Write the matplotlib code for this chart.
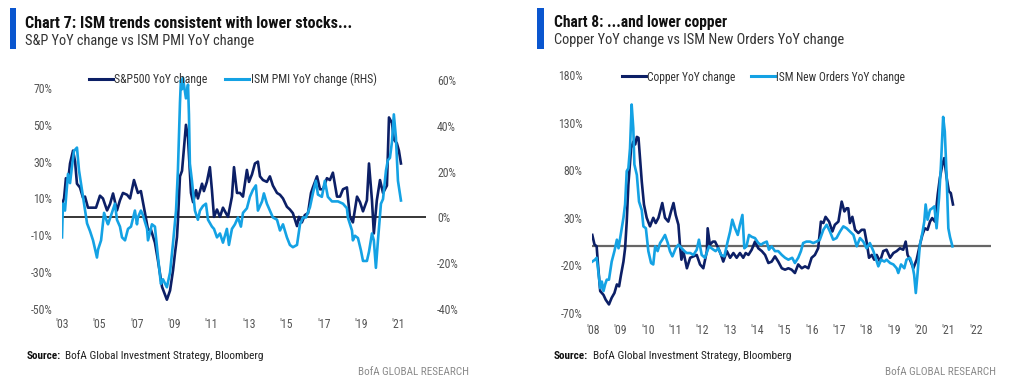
import matplotlib
matplotlib.use('Agg')
import matplotlib.pyplot as plt
from matplotlib import font_manager
from matplotlib.lines import Line2D

avail = {f.name for f in font_manager.fontManager.ttflist}
FONT = next((f for f in ['Liberation Sans Narrow', 'Roboto Condensed', 'Liberation Sans'] if f in avail), 'DejaVu Sans')
plt.rcParams['font.family'] = [FONT, 'DejaVu Sans']

# ---------------- data ----------------
# Chart 7: S&P500 YoY % (left axis), ISM PMI YoY % (right axis)
sp500 = [(2003.00, 7), (2003.11, 10), (2003.21, 21), (2003.32, 19), (2003.43, 29), (2003.59, 36), (2003.70, 30),
         (2003.80, 18), (2003.96, 16), (2004.12, 10.5), (2004.23, 11), (2004.39, 5), (2004.60, 5), (2004.82, 5),
         (2005.03, 11.5), (2005.19, 10), (2005.41, 3.5), (2005.57, 7), (2005.73, 12.7), (2005.94, 3.5), (2006.10, 9),
         (2006.26, 13), (2006.48, 12), (2006.64, 10), (2006.85, 20), (2007.06, 13), (2007.22, 14), (2007.44, 2),
         (2007.60, -7), (2007.76, -7), (2007.97, -14), (2008.13, -23.5), (2008.35, -38), (2008.61, -45), (2008.78, -40),
         (2008.94, -29), (2009.04, -20), (2009.15, -11), (2009.20, -2), (2009.31, 22), (2009.42, 25), (2009.63, 50),
         (2009.74, 43), (2009.90, 13), (2010.01, 8), (2010.17, 14.5), (2010.27, 10), (2010.49, 18), (2010.59, 14),
         (2010.75, 19), (2010.91, 27), (2011.02, 14.5), (2011.13, 0), (2011.29, 4), (2011.45, 0), (2011.61, 5),
         (2011.77, 2), (2011.88, 0), (2012.09, 11), (2012.20, 27), (2012.36, 13), (2012.52, 13), (2012.68, 11),
         (2012.89, 25.5), (2013.00, 19), (2013.16, 23), (2013.32, 29), (2013.48, 30), (2013.59, 22), (2013.75, 20),
         (2013.96, 19), (2014.12, 22), (2014.28, 17), (2014.50, 13), (2014.66, 12), (2014.82, 10), (2015.03, 5.5),
         (2015.19, 4), (2015.35, 2), (2015.57, -5), (2015.67, 0), (2015.83, -3), (2015.99, 1), (2016.16, 2),
         (2016.26, 9), (2016.32, 13), (2016.42, 16), (2016.64, 22), (2016.80, 15), (2016.96, 15), (2017.17, 21),
         (2017.33, 20), (2017.49, 24), (2017.71, 11), (2017.87, 11), (2018.03, 15), (2018.24, 16), (2018.40, 0),
         (2018.56, -3), (2018.78, 11), (2018.94, 8), (2019.10, 3), (2019.31, 9), (2019.42, 29), (2019.58, 9),
         (2019.68, -9), (2019.84, 9), (2020.01, 20), (2020.17, 13), (2020.38, 17), (2020.49, 54), (2020.65, 51),
         (2020.75, 42), (2020.91, 40), (2021.02, 36), (2021.13, 29)]

ism_pmi = [(2003.00, -8.7), (2003.05, 6), (2003.16, 3), (2003.21, 8), (2003.32, 19), (2003.43, 15), (2003.53, 22),
           (2003.64, 29), (2003.80, 30.5), (2003.91, 20.5), (2004.07, 12), (2004.18, 6), (2004.34, -2.6), (2004.50, -6),
           (2004.66, -10), (2004.87, -17.5), (2004.93, -14), (2005.09, -10), (2005.25, 2), (2005.41, -2), (2005.46, -3),
           (2005.67, 2), (2005.83, 6), (2005.94, -1), (2006.10, -4), (2006.21, -8.7), (2006.37, -10), (2006.53, -5),
           (2006.69, -4), (2006.90, 3), (2007.01, -3), (2007.06, 0), (2007.22, 3), (2007.33, 1), (2007.55, -5),
           (2007.60, -10), (2007.81, -3), (2007.97, -4), (2008.13, -17), (2008.29, -29), (2008.40, -27),
           (2008.61, -30.5), (2008.78, -24), (2008.94, -11), (2009.10, 3), (2009.20, 20.5), (2009.31, 50),
           (2009.36, 60), (2009.42, 56), (2009.47, 61), (2009.63, 52), (2009.74, 58), (2009.79, 45), (2009.84, 23.5),
           (2009.95, 16), (2010.11, 3), (2010.27, -1), (2010.38, 3), (2010.54, 5), (2010.70, 6), (2010.81, -1),
           (2011.02, -4), (2011.13, -5), (2011.29, -8.7), (2011.45, -7), (2011.61, -11), (2011.82, -5), (2011.93, -12),
           (2012.09, -5), (2012.25, -3), (2012.41, 0), (2012.57, -4), (2012.68, 2), (2012.89, 4), (2013.05, 9),
           (2013.21, 12), (2013.37, 14), (2013.48, 3), (2013.70, 7), (2013.80, 10.5), (2013.96, 6), (2014.12, 3),
           (2014.28, 0), (2014.50, -1), (2014.66, -5.7), (2014.82, -3), (2015.03, -8.7), (2015.19, -12),
           (2015.35, -13), (2015.57, -12), (2015.73, -3), (2015.89, 0), (2016.05, 0), (2016.26, 4.4), (2016.42, 10.5),
           (2016.58, 16), (2016.69, 10), (2016.90, 9), (2017.06, 16), (2017.22, 9), (2017.44, 7), (2017.60, 7),
           (2017.76, 7), (2018.03, 6), (2018.24, 4), (2018.29, 0), (2018.51, -5.7), (2018.56, -10), (2018.67, -8),
           (2018.83, -9), (2018.99, -14.4), (2019.10, -19), (2019.31, -19), (2019.42, -15), (2019.58, -7),
           (2019.68, -10), (2019.79, -22), (2019.90, -10), (2020.06, 6), (2020.17, 8), (2020.33, 20.5), (2020.43, 25),
           (2020.54, 26), (2020.65, 33), (2020.75, 45), (2020.86, 35), (2020.97, 16), (2021.13, 7.4)]

# Chart 8: Copper YoY %, ISM New Orders YoY %
copper = [(2007.97, 12), (2008.05, 2), (2008.13, 0), (2008.19, -23), (2008.26, -47), (2008.38, -51), (2008.46, -56),
          (2008.58, -61), (2008.68, -54), (2008.78, -49), (2008.87, -40), (2008.95, -42), (2009.02, -30),
          (2009.11, -16), (2009.17, -2), (2009.23, 26), (2009.29, 65), (2009.39, 103), (2009.47, 110), (2009.54, 107),
          (2009.60, 115), (2009.66, 114), (2009.72, 91), (2009.78, 68), (2009.86, 44), (2009.96, 30), (2010.08, 21),
          (2010.20, 30), (2010.29, 24.5), (2010.39, 30), (2010.53, 45.5), (2010.63, 30), (2010.75, 26),
          (2010.85, 36.7), (2010.94, 45.5), (2011.02, 33), (2011.12, 22.7), (2011.18, 0), (2011.23, -14),
          (2011.30, -5), (2011.43, -23), (2011.55, -12), (2011.67, -10.5), (2011.79, -9), (2011.91, -19),
          (2012.03, -23), (2012.16, -5), (2012.19, 19), (2012.27, 1.7), (2012.38, 5), (2012.46, 5), (2012.58, -2),
          (2012.68, -9), (2012.76, -16), (2012.89, -5), (2013.01, -12), (2013.13, -7), (2013.25, -12), (2013.37, -7),
          (2013.49, -12), (2013.58, -7), (2013.68, -9), (2013.80, -3.5), (2013.92, 5), (2014.04, -2), (2014.17, -5),
          (2014.29, -9), (2014.41, -17.5), (2014.53, -16), (2014.65, -10.5), (2014.77, -16), (2014.90, -23),
          (2015.02, -24.5), (2015.14, -23), (2015.26, -24.5), (2015.38, -28), (2015.50, -19), (2015.63, -23),
          (2015.75, -21), (2015.87, -23), (2015.99, -12), (2016.11, -9), (2016.23, -2), (2016.33, 26),
          (2016.42, 24.5), (2016.50, 31), (2016.63, 26), (2016.75, 15.6), (2016.84, 22.7), (2016.97, 26),
          (2017.09, 47), (2017.19, 36.7), (2017.27, 40), (2017.33, 40), (2017.39, 24.5), (2017.48, 31),
          (2017.58, 17.4), (2017.70, 14), (2017.82, 17.4), (2017.92, 17.4), (2018.00, 5), (2018.09, -12),
          (2018.19, -9), (2018.28, -14), (2018.37, -9), (2018.49, -16), (2018.61, -5), (2018.73, -3.5),
          (2018.86, -12), (2018.98, -7), (2019.10, -5), (2019.22, -2), (2019.34, -3.5), (2019.43, 5), (2019.50, -9),
          (2019.59, -14), (2019.71, -23), (2019.83, -14), (2019.95, 1.7), (2020.04, 12), (2020.13, 19),
          (2020.23, 17.4), (2020.32, 26), (2020.40, 29.7), (2020.50, 26), (2020.60, 54), (2020.68, 71.7),
          (2020.77, 85.7), (2020.84, 92.7), (2020.93, 71.7), (2021.01, 57.7), (2021.08, 56), (2021.16, 44)]

ism_new_orders = [(2007.97, -16), (2008.07, -14), (2008.13, -12), (2008.19, -26), (2008.26, -44), (2008.32, -37),
                  (2008.38, -47), (2008.44, -40), (2008.50, -35), (2008.58, -35), (2008.68, -16), (2008.78, -5),
                  (2008.87, 7), (2008.93, -2), (2009.01, 12), (2009.11, 30), (2009.17, 44), (2009.23, 79),
                  (2009.29, 82), (2009.35, 103), (2009.41, 149), (2009.47, 124), (2009.51, 86), (2009.60, 75),
                  (2009.68, 47), (2009.78, 38), (2009.84, 21), (2009.93, 19), (2010.02, -5), (2010.12, -17.5),
                  (2010.20, -19), (2010.27, 0), (2010.36, -5), (2010.45, 3.5), (2010.53, 7), (2010.63, 12),
                  (2010.73, 3.5), (2010.81, -5), (2010.90, -10.5), (2011.02, -2), (2011.12, 1.7), (2011.24, -2),
                  (2011.34, -5), (2011.42, -7), (2011.55, -7), (2011.67, -9), (2011.79, -3.5), (2011.87, 7),
                  (2011.97, -9), (2012.09, -12), (2012.24, 0), (2012.40, -3.5), (2012.48, -5), (2012.58, -2),
                  (2012.68, -9), (2012.80, -10.5), (2012.92, 5), (2013.01, 15.6), (2013.09, 28), (2013.19, 19),
                  (2013.29, 12), (2013.37, 22.7), (2013.46, 33), (2013.53, -2), (2013.61, 0), (2013.70, 12),
                  (2013.80, 10), (2013.92, 8.7), (2014.04, 3.5), (2014.14, 1.7), (2014.23, 3.5), (2014.35, 5),
                  (2014.43, -3.5), (2014.53, 0), (2014.65, -5), (2014.77, -5), (2014.90, -9), (2015.02, -12),
                  (2015.14, -14), (2015.28, -12), (2015.38, -17.5), (2015.50, -12), (2015.60, -5), (2015.68, 3.5),
                  (2015.80, 5), (2015.93, 5), (2016.05, 3.5), (2016.17, 5), (2016.29, 7), (2016.42, 17.4),
                  (2016.54, 22.7), (2016.66, 15.6), (2016.78, 7), (2016.90, 8.7), (2017.03, 15.6), (2017.15, 21),
                  (2017.27, 19), (2017.39, 15.6), (2017.52, 12), (2017.64, 0), (2017.76, 8.7), (2017.88, 5),
                  (2018.00, -2), (2018.12, 3.5), (2018.25, -5), (2018.33, -12), (2018.43, -21), (2018.53, -14),
                  (2018.65, -16), (2018.73, -14), (2018.86, -17.5), (2018.98, -19), (2019.10, -23), (2019.16, -28),
                  (2019.26, -19), (2019.38, -23), (2019.46, -14), (2019.59, -12), (2019.67, -19), (2019.74, -30),
                  (2019.80, -49), (2019.86, -30), (2019.95, 1.7), (2020.04, 14), (2020.11, 26), (2020.16, 44),
                  (2020.23, 28), (2020.32, 38.4), (2020.40, 40), (2020.48, 42), (2020.56, 19), (2020.65, 50.7),
                  (2020.72, 85.7), (2020.80, 136), (2020.86, 120.7), (2020.93, 71.7), (2020.99, 19), (2021.05, 10),
                  (2021.14, 0)]

c7_xticks = list(range(2003, 2022, 2))
c7_xlabels = ["'%02d" % (y % 100) for y in c7_xticks]
c7_left_ticks = [-50, -30, -10, 10, 30, 50, 70]
c7_right_ticks = [-40, -20, 0, 20, 40, 60]
c8_xticks = list(range(2008, 2023))
c8_xlabels = ["'%02d" % (y % 100) for y in c8_xticks]
c8_yticks = [-70, -20, 30, 80, 130, 180]

# ---------------- style ----------------
NAVY = '#0c1f66'
SKY = '#14a2e4'
BAR = '#0a56cf'
TICK = '#555555'
W, H = 1009, 387
fig = plt.figure(figsize=(W / 100, H / 100), dpi=100)


def px_axes(l, t, r, b):
    return fig.add_axes([l / W, 1 - b / H, (r - l) / W, (b - t) / H])


def fx(x):
    return x / W


def fy(y):
    return 1 - y / H


def unzip(pairs):
    return [p[0] for p in pairs], [p[1] for p in pairs]


def clean(ax):
    for s in ax.spines.values():
        s.set_visible(False)
    ax.tick_params(length=0, labelsize=8.5, labelcolor=TICK)


def pct(vals):
    return ['%d%%' % v for v in vals]


# ---------------- Chart 7 ----------------
ax1 = px_axes(62, 75, 426, 315)
ax1.set_xlim(2003, 2022.47)
ax1.set_ylim(-53.3, 77.06)
ax1.axhline(0, color='black', lw=1.1, zorder=1)
x, y = unzip(sp500)
ax1.plot(x, y, color=NAVY, lw=1.9, zorder=3, solid_joinstyle='round')
ax1.set_xticks(c7_xticks, c7_xlabels)
ax1.set_yticks(c7_left_ticks, pct(c7_left_ticks))
clean(ax1)
ax1.tick_params(axis='y', pad=7)
ax1.tick_params(axis='x', pad=2.5)

ax1r = ax1.twinx()
ax1r.set_ylim(-42.6, 62.2)
x, y = unzip(ism_pmi)
ax1r.plot(x, y, color=SKY, lw=1.9, zorder=3, solid_joinstyle='round')
ax1r.set_yticks(c7_right_ticks, pct(c7_right_ticks))
clean(ax1r)
ax1r.tick_params(axis='y', pad=8)

fig.legend([Line2D([], [], color=NAVY, lw=2.2), Line2D([], [], color=SKY, lw=2.2)],
           ['S&P500 YoY change', 'ISM PMI YoY change (RHS)'],
           loc='center left', bbox_to_anchor=(fx(89), fy(79)), ncol=2, frameon=False,
           fontsize=8.5, handlelength=2.0, handletextpad=0.15, columnspacing=1.5, borderpad=0,
           borderaxespad=0, labelcolor='#333333')

fig.patches.append(plt.Rectangle((fx(10), fy(49)), fx(6), 41 / H, transform=fig.transFigure,
                                 color=BAR, lw=0))
fig.text(fx(25), fy(28), 'Chart 7: ISM trends consistent with lower stocks...', fontsize=11.6,
         fontweight='bold', color='#111111', va='baseline')
fig.text(fx(25), fy(45), 'S&P YoY change vs ISM PMI YoY change', fontsize=10.4, color='#333333', va='baseline')
fig.text(fx(27), fy(359), 'Source:', fontsize=8, fontweight='bold', color='#111111', va='baseline')
fig.text(fx(65), fy(359), 'BofA Global Investment Strategy, Bloomberg', fontsize=8.2, color='#222222',
         va='baseline')
fig.text(fx(469), fy(375), 'BofA GLOBAL RESEARCH', fontsize=8, color='#8a8a8a', va='baseline', ha='right')

# ---------------- Chart 8 ----------------
ax2 = px_axes(592, 70, 991, 318)
ax2.set_xlim(2007.96, 2022.55)
ax2.set_ylim(-75.25, 185.25)
ax2.axhline(0, color='#666666', lw=1.6, zorder=1)
x, y = unzip(copper)
ax2.plot(x, y, color=NAVY, lw=1.9, zorder=3, solid_joinstyle='round')
x, y = unzip(ism_new_orders)
ax2.plot(x, y, color=SKY, lw=1.9, zorder=4, solid_joinstyle='round')
ax2.set_xticks(c8_xticks, c8_xlabels)
ax2.set_yticks(c8_yticks, pct(c8_yticks))
clean(ax2)
ax2.tick_params(axis='y', pad=7)
ax2.tick_params(axis='x', pad=4)

fig.legend([Line2D([], [], color=NAVY, lw=2.2), Line2D([], [], color=SKY, lw=2.2)],
           ['Copper YoY change', 'ISM New Orders YoY change'],
           loc='center left', bbox_to_anchor=(fx(622), fy(77)), ncol=2, frameon=False,
           fontsize=8.3, handlelength=2.1, handletextpad=0.1, columnspacing=1.3, borderpad=0,
           borderaxespad=0, labelcolor='#333333')

fig.patches.append(plt.Rectangle((fx(537), fy(49)), fx(7), 41 / H, transform=fig.transFigure,
                                 color=BAR, lw=0))
fig.text(fx(554), fy(27), 'Chart 8: ...and lower copper', fontsize=11.2, fontweight='bold',
         color='#111111', va='baseline')
fig.text(fx(554), fy(44), 'Copper YoY change vs ISM New Orders YoY change', fontsize=10.4,
         color='#333333', va='baseline')
fig.text(fx(554), fy(359), 'Source:', fontsize=8, fontweight='bold', color='#111111', va='baseline')
fig.text(fx(593), fy(359), 'BofA Global Investment Strategy, Bloomberg', fontsize=8.2, color='#222222',
         va='baseline')
fig.text(fx(996), fy(375), 'BofA GLOBAL RESEARCH', fontsize=8, color='#8a8a8a', va='baseline', ha='right')

fig.savefig('out.png', dpi=100)
